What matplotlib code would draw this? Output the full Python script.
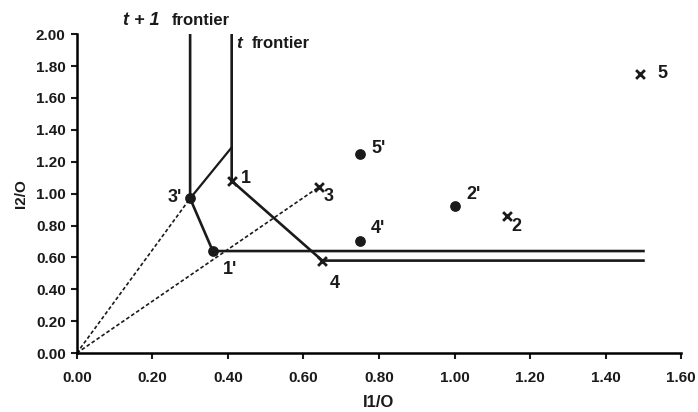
import matplotlib
matplotlib.use("Agg")
import matplotlib.pyplot as plt

plt.rcParams['font.family'] = ['Liberation Sans', 'DejaVu Sans']

# period t units (crosses)
t_labels = ['1', '2', '3', '4', '5']
t_x = [0.41, 1.14, 0.64, 0.65, 1.49]
t_y = [1.08, 0.86, 1.04, 0.58, 1.75]

# period t+1 units (dots)
t1_labels = ["1'", "2'", "3'", "4'", "5'"]
t1_x = [0.36, 1.00, 0.30, 0.75, 0.75]
t1_y = [0.64, 0.92, 0.97, 0.70, 1.25]

# frontiers
front_t_x = [0.41, 0.41, 0.65, 1.50]
front_t_y = [2.00, 1.08, 0.58, 0.58]
front_t1_x = [0.30, 0.30, 0.36, 1.50]
front_t1_y = [2.00, 0.97, 0.64, 0.64]
# extra segment from 3' up to the t frontier
seg_x = [0.30, 0.41]
seg_y = [0.97, 1.29]

# rays from origin
ray1_x = [0.0, 0.30]
ray1_y = [0.0, 0.97]
ray2_x = [0.0, 0.64]
ray2_y = [0.0, 1.04]

xticks = [0.0, 0.2, 0.4, 0.6, 0.8, 1.0, 1.2, 1.4, 1.6]
yticks = [0.0, 0.2, 0.4, 0.6, 0.8, 1.0, 1.2, 1.4, 1.6, 1.8, 2.0]

ink = '#1a1a1a'

fig = plt.figure(figsize=(6.98, 4.12), dpi=100)
ax = fig.add_axes([0.110, 0.143, 0.866, 0.774])

ax.plot(front_t_x, front_t_y, color=ink, lw=1.9, solid_joinstyle='miter')
ax.plot(front_t1_x, front_t1_y, color=ink, lw=1.9, solid_joinstyle='miter')
ax.plot(seg_x, seg_y, color=ink, lw=1.6)
ax.plot(ray1_x, ray1_y, color=ink, lw=1.2, ls=(0, (2.2, 1.4)))
ax.plot(ray2_x, ray2_y, color=ink, lw=1.2, ls=(0, (2.2, 1.4)))

ax.scatter(t_x, t_y, marker='x', s=40, color=ink, linewidths=2, zorder=3)
ax.scatter(t1_x, t1_y, marker='o', s=45, color=ink, zorder=3)

# point labels, offsets in pixels from the point to the label centre
lab_off = {'1': (14, 2), '2': (9, -11), '3': (10, -9), '4': (12, -23), '5': (23, 1),
           "1'": (17, -18), "2'": (19, 12), "3'": (-15, 1), "4'": (18, 13), "5'": (18, 5)}
for lab, x, y in zip(t_labels + t1_labels, t_x + t1_x, t_y + t1_y):
    dx, dy = lab_off[lab]
    ax.annotate(lab, (x, y), xytext=(dx, dy), textcoords='offset pixels',
                ha='center', va='center', fontsize=13, fontweight='bold', color=ink)

ax.text(0.122, 2.088, 't + 1', fontsize=13, fontweight='bold', style='italic',
        ha='left', va='center', color=ink)
ax.text(0.252, 2.088, 'frontier', fontsize=12, fontweight='bold', ha='left', va='center', color=ink)
ax.text(0.421, 1.944, 't', fontsize=12.5, fontweight='bold', style='italic', ha='left', va='center', color=ink)
ax.text(0.462, 1.944, 'frontier', fontsize=12, fontweight='bold', ha='left', va='center', color=ink)

ax.set_xlim(0, 1.6)
ax.set_ylim(0, 2.0)
ax.set_xticks(xticks)
ax.set_yticks(yticks)
ax.set_xticklabels(['%.2f' % v for v in xticks])
ax.set_yticklabels(['%.2f' % v for v in yticks])
ax.tick_params(labelsize=11, width=1.5, length=4, color=ink, labelcolor=ink)
ax.tick_params(axis='x', pad=9)
ax.tick_params(axis='y', pad=4)
for lbl in ax.get_xticklabels() + ax.get_yticklabels():
    lbl.set_fontweight('bold')
ax.spines['top'].set_visible(False)
ax.spines['right'].set_visible(False)
ax.spines['left'].set_linewidth(1.8)
ax.spines['bottom'].set_linewidth(1.8)
ax.set_xlabel('I1/O', fontsize=12, fontweight='bold', color=ink, labelpad=7)
ax.set_ylabel('I2/O', fontsize=11, fontweight='bold', color=ink, labelpad=6)

fig.savefig('out.png', dpi=100)
